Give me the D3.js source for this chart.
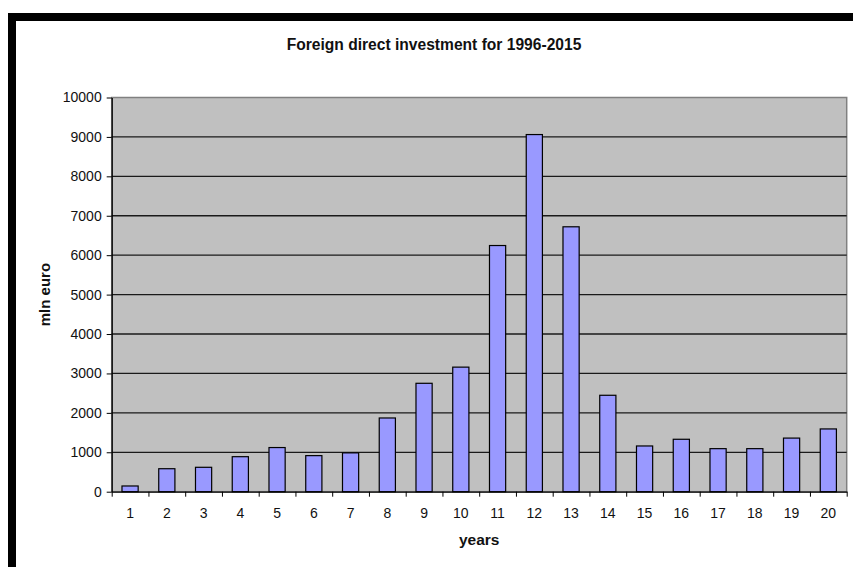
<!DOCTYPE html>
<html>
<head>
<meta charset="utf-8">
<script src="https://cdn.jsdelivr.net/npm/d3@7"></script>
<style>
  body { margin: 0; background: #ffffff; }
  svg { display: block; font-family: "Liberation Sans", Arial, sans-serif; }
</style>
</head>
<body>
<svg id="chart" width="853" height="567"></svg>
<script>
// data
const years = ["1", "2", "3", "4", "5", "6", "7", "8", "9", "10",
  "11", "12", "13", "14", "15", "16", "17", "18", "19", "20"];
const investment = [145, 583, 619, 888, 1120, 915, 985, 1870, 2750, 3160,
  6245, 9060, 6720, 2446, 1160, 1330, 1092, 1092, 1360, 1592];
const yTicks = [0, 1000, 2000, 3000, 4000, 5000, 6000, 7000, 8000, 9000, 10000];

const svg = d3.select("#chart");

// black frame on top and left of the screenshot
svg.append("rect").attr("x", 8).attr("y", 13).attr("width", 845).attr("height", 8).attr("fill", "#000");
svg.append("rect").attr("x", 8).attr("y", 13).attr("width", 8).attr("height", 554).attr("fill", "#000");

const plot = { left: 111.7, right: 846.7, top: 97.5, bottom: 491.7 };

const x = d3.scaleBand()
  .domain(years)
  .range([plot.left, plot.right])
  .paddingInner(0.56)
  .paddingOuter(0.28);

const y = d3.scaleLinear()
  .domain([0, 10000])
  .range([plot.bottom, plot.top]);

// plot area
svg.append("rect")
  .attr("x", plot.left).attr("y", plot.top)
  .attr("width", plot.right - plot.left).attr("height", plot.bottom - plot.top)
  .attr("fill", "#c0c0c0")
  .attr("stroke", "#808080")
  .attr("stroke-width", 1.5);

// gridlines
svg.append("g")
  .selectAll("line")
  .data(yTicks.filter(d => d > 0 && d < 10000))
  .enter()
  .append("line")
  .attr("x1", plot.left).attr("x2", plot.right)
  .attr("y1", d => y(d)).attr("y2", d => y(d))
  .attr("stroke", "#1a1a1a")
  .attr("stroke-width", 1.3);

// bars
svg.append("g")
  .selectAll("rect")
  .data(investment)
  .enter()
  .append("rect")
  .attr("x", (d, i) => x(years[i]))
  .attr("y", d => y(d))
  .attr("width", x.bandwidth())
  .attr("height", d => plot.bottom - y(d))
  .attr("fill", "#9999ff")
  .attr("stroke", "#000")
  .attr("stroke-width", 1.2);

// Axis Y
const yAxis = svg.append("g")
  .attr("transform", `translate(${plot.left},0)`)
  .call(d3.axisLeft(y).tickValues(yTicks).tickFormat(d3.format("d")).tickSize(5).tickPadding(5).tickSizeOuter(0));
yAxis.select(".domain").attr("stroke", "#000").attr("stroke-width", 1.3);
yAxis.selectAll(".tick line").attr("stroke", "#000");
yAxis.selectAll("text").attr("font-size", 14).attr("fill", "#111").attr("font-family", "Liberation Sans, Arial");

// Axis X: ticks on category boundaries, labels in the middle
const xEdges = d3.scaleLinear().domain([0, years.length]).range([plot.left, plot.right]);
const xTickAxis = svg.append("g")
  .attr("transform", `translate(0,${plot.bottom})`)
  .call(d3.axisBottom(xEdges).tickValues(d3.range(0, years.length + 1)).tickFormat("").tickSize(5).tickSizeOuter(0));
xTickAxis.select(".domain").attr("stroke", "#000").attr("stroke-width", 1.3);
xTickAxis.selectAll(".tick line").attr("stroke", "#000");

const xLabels = svg.append("g")
  .attr("transform", `translate(0,${plot.bottom})`)
  .call(d3.axisBottom(x).tickSize(0).tickPadding(16));
xLabels.select(".domain").remove();
xLabels.selectAll("text").attr("font-size", 14).attr("fill", "#111").attr("font-family", "Liberation Sans, Arial");

// titles
svg.append("text")
  .attr("x", 434).attr("y", 50)
  .attr("text-anchor", "middle")
  .attr("font-size", 15.6).attr("font-weight", "bold").attr("fill", "#111")
  .text("Foreign direct investment for 1996-2015");

svg.append("text")
  .attr("x", (plot.left + plot.right) / 2).attr("y", 545)
  .attr("text-anchor", "middle")
  .attr("font-size", 15.5).attr("font-weight", "bold").attr("fill", "#111")
  .text("years");

svg.append("text")
  .attr("transform", `translate(49.5,${(plot.top + plot.bottom) / 2}) rotate(-90)`)
  .attr("text-anchor", "middle")
  .attr("font-size", 15).attr("font-weight", "bold").attr("fill", "#111")
  .text("mln euro");
</script>
</body>
</html>
